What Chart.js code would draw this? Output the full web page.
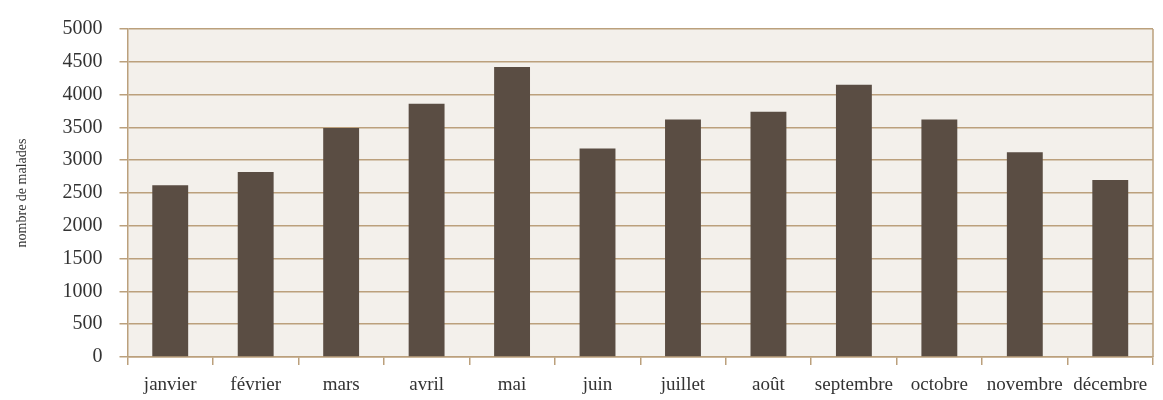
<!DOCTYPE html>
<html lang="fr">
<head>
<meta charset="UTF-8" />
<title>Nombre de malades par mois</title>
<style>
  html, body { margin: 0; padding: 0; background: #fff; }
  .wrap { width: 1163px; height: 400px; }
</style>
</head>
<body>
<div class="wrap"><canvas id="chart" width="1163" height="400"></canvas></div>

<script src="https://cdn.jsdelivr.net/npm/chart.js"></script>
<script>
  // données
  const mois = ['janvier', 'février', 'mars', 'avril', 'mai', 'juin', 'juillet', 'août', 'septembre', 'octobre', 'novembre', 'décembre'];
  const malades = [2620, 2820, 3490, 3860, 4420, 3180, 3620, 3740, 4150, 3620, 3120, 2700];
  const yTicks = [0, 500, 1000, 1500, 2000, 2500, 3000, 3500, 4000, 4500, 5000];
  const titreY = 'nombre de malades';

  const serif = '"Liberation Serif", "DejaVu Serif", serif';
  const tan = '#bba07c';
  const texte = '#333';

  // fond du cadre, bord droit et titre de l'axe vertical
  const cadre = {
    id: 'cadre',
    beforeDraw(chart) {
      const { ctx, chartArea: a } = chart;
      ctx.save();
      ctx.fillStyle = '#f3f0eb';
      ctx.fillRect(a.left, a.top, a.right - a.left, a.bottom - a.top);
      ctx.restore();
    },
    afterDraw(chart) {
      const { ctx, chartArea: a } = chart;
      ctx.save();
      ctx.strokeStyle = tan;
      ctx.lineWidth = 1.5;
      ctx.beginPath();
      ctx.moveTo(a.right, a.top);
      ctx.lineTo(a.right, a.bottom);
      ctx.stroke();

      ctx.translate(26, (a.top + a.bottom) / 2);
      ctx.rotate(-Math.PI / 2);
      ctx.fillStyle = texte;
      ctx.font = '14px ' + serif;
      ctx.textAlign = 'center';
      ctx.textBaseline = 'alphabetic';
      ctx.fillText(titreY, 0, 0);
      ctx.restore();
    }
  };

  new Chart(document.getElementById('chart'), {
    type: 'bar',
    data: {
      labels: mois,
      datasets: [{
        data: malades,
        backgroundColor: '#5a4d43',
        barPercentage: 0.84,
        categoryPercentage: 0.5
      }]
    },
    plugins: [cadre],
    options: {
      responsive: false,
      animation: false,
      layout: { padding: { top: 27, right: 10, left: 0, bottom: 0 } },
      plugins: { legend: { display: false }, tooltip: { enabled: false } },
      scales: {
        x: {
          afterFit(s) { s.height = 43; },
          grid: { drawOnChartArea: false, color: tan, lineWidth: 1.5, tickLength: 8 },
          border: { color: tan, width: 1.5 },
          ticks: { color: texte, font: { family: serif, size: 19 }, padding: 9, maxRotation: 0 }
        },
        y: {
          min: 0,
          max: 5000,
          afterFit(s) { s.width = 127.5; },
          afterBuildTicks(s) { s.ticks = yTicks.map(v => ({ value: v })); },
          grid: { color: tan, lineWidth: 1.5, tickLength: 8 },
          border: { color: tan, width: 1.5 },
          ticks: { color: texte, font: { family: serif, size: 20 }, padding: 17, callback: v => String(v) }
        }
      }
    }
  });
</script>
</body>
</html>
